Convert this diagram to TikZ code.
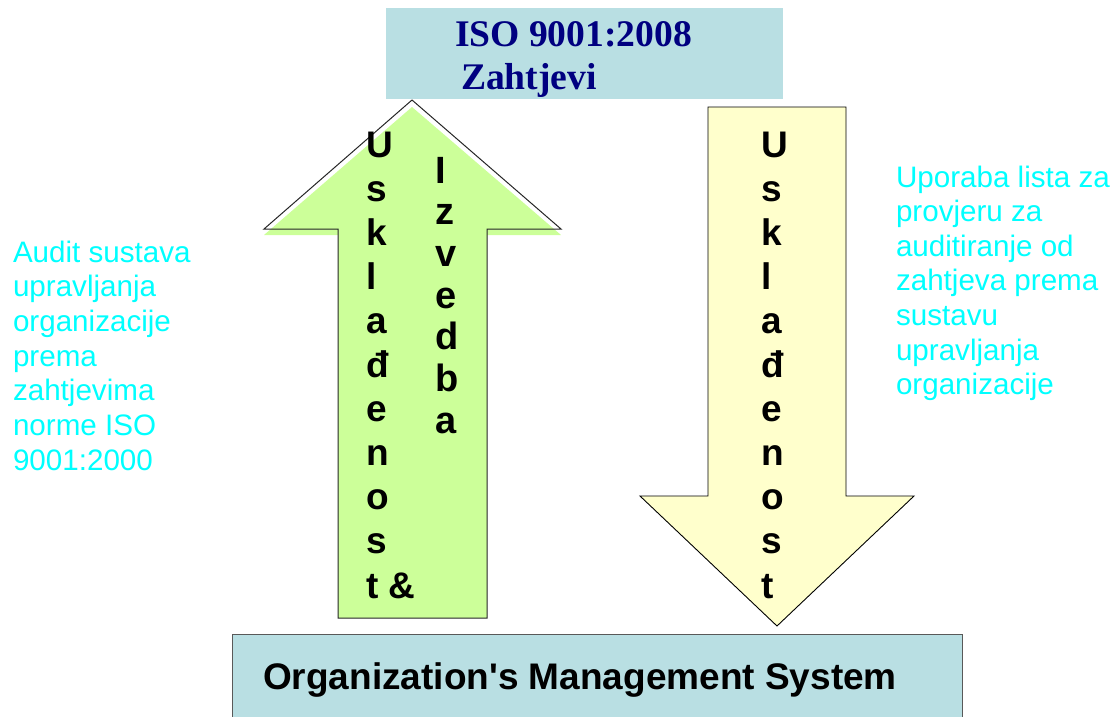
\documentclass[tikz,border=0pt]{standalone}
\usepackage{fontspec}
\newfontfamily\arialf{Liberation Sans}
\newfontfamily\timesf{Liberation Serif}
\definecolor{boxblue}{HTML}{B9DFE3}
\definecolor{arrgreen}{HTML}{CCFF99}
\definecolor{arryellow}{HTML}{FFFFCC}
\definecolor{navytext}{HTML}{000080}
\definecolor{cyantext}{HTML}{00FFFF}
\begin{document}
\begin{tikzpicture}[x=1pt,y=-1pt,
  every node/.style={inner sep=0pt,outer sep=0pt},
  lettera/.style={anchor=base west,font=\arialf\bfseries\fontsize{37}{42}\selectfont},
  letterb/.style={anchor=base west,font=\arialf\bfseries\fontsize{38}{42}\selectfont},
  sidetext/.style={anchor=base west,text=cyantext,font=\arialf\fontsize{29.6}{34.6}\selectfont},
  titletext/.style={anchor=base west,text=navytext,font=\timesf\bfseries\fontsize{37.6}{43}\selectfont}]
\useasboundingbox (0,0) rectangle (1114,716);
% top box
\node[fill=boxblue,minimum width=397pt,minimum height=91pt,anchor=north west] (req) at (386,8) {};
\node[titletext] (iso) at (455,46) {ISO 9001:2008};
\node[titletext] (zah) at (461,89) {Zahtjevi};
% bottom box
\node[draw=black!65,line width=1pt,fill=boxblue,minimum width=730pt,minimum height=100pt,anchor=north west] (oms) at (232,634) {};
\node[anchor=base,font=\arialf\bfseries\fontsize{37}{44}\selectfont] (omstext) at (580,689) {Organization's Management System};
% left arrow (up)
\fill[arrgreen] (412,107) -- (561,235) -- (487,235) -- (487,618) -- (338,618) -- (338,235) -- (264,235) -- cycle;
\draw[black!85,line width=1pt,line join=miter] (412,100) -- (561,229) -- (487,229) -- (487,618) -- (338,618) -- (338,229) -- (264,229) -- cycle;
% right arrow (down)
\draw[black,fill=arryellow,line width=0.9pt] (708,107) -- (846,107) -- (846,496) -- (914,496) -- (777,626) -- (640,496) -- (708,496) -- cycle;
% letters
\foreach \c [count=\i from 0] in {U,s,k,l,a,đ,e,n,o,s,{t \&}} {
  \pgfmathsetmacro{\yy}{157+44.1*\i}
  \node[lettera] (la\i) at (366,\yy) {\c};
}
\foreach \c [count=\i from 0] in {I,z,v,e,d,b,a} {
  \pgfmathsetmacro{\yy}{183+41.7*\i}
  \node[letterb] (lb\i) at (435,\yy) {\c};
}
\foreach \c [count=\i from 0] in {U,s,k,l,a,đ,e,n,o,s,t} {
  \pgfmathsetmacro{\yy}{157+44.1*\i}
  \node[lettera] (rc\i) at (761,\yy) {\c};
}
% side texts
\foreach \t [count=\i from 0] in {Audit sustava,upravljanja,organizacije,prema,zahtjevima,norme ISO,9001:2000} {
  \pgfmathsetmacro{\yy}{262+34.7*\i}
  \node[sidetext] (lt\i) at (13,\yy) {\t};
}
\foreach \t [count=\i from 0] in {Uporaba lista za,provjeru za,auditiranje od,zahtjeva prema,sustavu,upravljanja,organizacije} {
  \pgfmathsetmacro{\yy}{187+34.6*\i}
  \node[sidetext] (rt\i) at (896,\yy) {\t};
}
\end{tikzpicture}
\end{document}
